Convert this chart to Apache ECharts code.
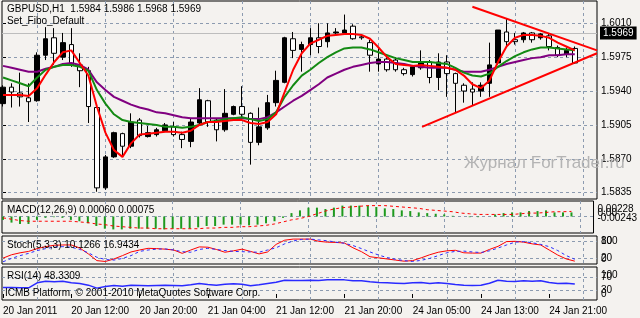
<!DOCTYPE html>
<html><head><meta charset="utf-8">
<script src="https://cdn.jsdelivr.net/npm/echarts@6/dist/echarts.min.js"></script>
<style>html,body{margin:0;padding:0;background:#f4f2ef;}#c{width:640px;height:318px;}</style>
</head><body><div id="c"></div>
<script>
// ---- data ----
const opens  = [1.5927,1.5944,1.5938,1.5933,1.5930,1.5977,1.5995,1.5975,1.5988,1.5967,1.5961,1.5923,1.5840,1.5872,1.5896,1.5883,1.5910,1.5893,1.5895,1.5899,1.5903,1.5895,1.5888,1.5907,1.5930,1.5910,1.5900,1.5916,1.5924,1.5917,1.5887,1.5902,1.5928,1.5949,1.5994,1.5983,1.5988,1.5995,1.5991,1.6000,1.6000,1.6007,1.5996,1.5990,1.5968,1.5973,1.5972,1.5962,1.5957,1.5964,1.5970,1.5954,1.5970,1.5958,1.5946,1.5942,1.5940,1.5948,1.5969,1.6001,1.5993,1.5993,1.6000,1.5995,1.5997,1.5985,1.5978,1.5984];
const highs  = [1.5946,1.5948,1.5959,1.5948,1.5980,1.6006,1.6005,1.6000,1.6005,1.5979,1.5965,1.5924,1.5874,1.5898,1.5897,1.5917,1.5912,1.5904,1.5902,1.5907,1.5908,1.5898,1.5912,1.5943,1.5931,1.5912,1.5942,1.5925,1.5945,1.5918,1.5923,1.5936,1.5961,1.5996,1.6001,1.5991,1.6005,1.6010,1.6010,1.6005,1.6019,1.6009,1.5998,1.5993,1.5985,1.5975,1.5975,1.5964,1.5967,1.5982,1.5972,1.5979,1.5977,1.5959,1.5948,1.5949,1.5949,1.5990,1.6003,1.6015,1.6000,1.6001,1.6001,1.6000,1.6000,1.5987,1.5985,1.5986];
const lows   = [1.5924,1.5923,1.5924,1.5908,1.5929,1.5972,1.5967,1.5972,1.5965,1.5944,1.5907,1.5836,1.5838,1.5871,1.5872,1.5881,1.5892,1.5892,1.5893,1.5898,1.5893,1.5881,1.5882,1.5905,1.5903,1.5888,1.5898,1.5915,1.5913,1.5864,1.5884,1.5900,1.5924,1.5948,1.5974,1.5960,1.5977,1.5979,1.5985,1.5998,1.5999,1.5993,1.5993,1.5960,1.5960,1.5960,1.5960,1.5956,1.5955,1.5962,1.5948,1.5941,1.5934,1.5918,1.5928,1.5925,1.5934,1.5934,1.5967,1.5986,1.5988,1.5990,1.5990,1.5993,1.5982,1.5975,1.5975,1.5968];
const closes = [1.5944,1.5939,1.5934,1.5929,1.5977,1.5994,1.5979,1.5990,1.5967,1.5961,1.5924,1.5840,1.5872,1.5897,1.5883,1.5908,1.5894,1.5897,1.5900,1.5905,1.5895,1.5890,1.5908,1.5931,1.5908,1.5900,1.5917,1.5924,1.5916,1.5887,1.5903,1.5928,1.5951,1.5995,1.5982,1.5988,1.5995,1.5986,1.6000,1.6001,1.6003,1.5994,1.5995,1.5977,1.5973,1.5962,1.5962,1.5958,1.5965,1.5970,1.5954,1.5970,1.5958,1.5948,1.5940,1.5939,1.5946,1.5967,1.6003,1.5991,1.5991,1.6000,1.5993,1.5999,1.5986,1.5977,1.5982,1.5969];
const maRed    = [1.5936,1.5936,1.5936,1.5935,1.5943,1.5957,1.5970,1.5980,1.5982,1.5969,1.5956,1.5924,1.5897,1.5879,1.5872,1.5886,1.5895,1.5896,1.5897,1.5898,1.5898,1.5897,1.5899,1.5905,1.5908,1.5908,1.5909,1.5910,1.5910,1.5907,1.5906,1.5908,1.5916,1.5939,1.5962,1.5979,1.5989,1.5993,1.5997,1.5998,1.5999,1.5999,1.5998,1.5994,1.5985,1.5975,1.5968,1.5967,1.5966,1.5967,1.5966,1.5965,1.5964,1.5962,1.5956,1.5947,1.5943,1.5951,1.5970,1.5986,1.5995,1.5998,1.5998,1.5997,1.5995,1.5990,1.5986,1.5982];
const maGreen  = [1.5954,1.5951,1.5948,1.5945,1.5954,1.5962,1.5965,1.5967,1.5967,1.5965,1.5961,1.5941,1.5927,1.5916,1.5910,1.5908,1.5907,1.5906,1.5905,1.5903,1.5903,1.5902,1.5903,1.5905,1.5908,1.5909,1.5911,1.5912,1.5913,1.5911,1.5909,1.5911,1.5918,1.5934,1.5946,1.5956,1.5962,1.5969,1.5975,1.5980,1.5984,1.5985,1.5985,1.5983,1.5980,1.5977,1.5974,1.5972,1.5970,1.5970,1.5970,1.5969,1.5968,1.5964,1.5959,1.5956,1.5955,1.5958,1.5965,1.5971,1.5976,1.5980,1.5983,1.5985,1.5985,1.5984,1.5983,1.5982];
const maPurple = [1.5966,1.5964,1.5962,1.5960,1.5960,1.5963,1.5965,1.5968,1.5969,1.5967,1.5962,1.5949,1.5941,1.5934,1.5930,1.5926,1.5923,1.5921,1.5918,1.5917,1.5915,1.5913,1.5912,1.5912,1.5912,1.5912,1.5912,1.5912,1.5912,1.5911,1.5911,1.5913,1.5918,1.5924,1.5930,1.5935,1.5941,1.5947,1.5954,1.5958,1.5962,1.5965,1.5967,1.5969,1.5970,1.5970,1.5969,1.5968,1.5966,1.5965,1.5964,1.5964,1.5964,1.5962,1.5960,1.5960,1.5960,1.5962,1.5965,1.5968,1.5970,1.5972,1.5974,1.5975,1.5977,1.5977,1.5978,1.5978];
const upperTrend = [[55.0,1.6027],[69.6,1.5982]];
const lowerTrend = [[49.1,1.5903],[69.6,1.5979]];
const macdHist   = [-0.0005,-0.0009,-0.0011,-0.0011,-0.0005,-0.0002,-0.0001,-0.0002,-0.0005,-0.0007,-0.0010,-0.0014,-0.0018,-0.0019,-0.0019,-0.0018,-0.0018,-0.0018,-0.0018,-0.0019,-0.0018,-0.0018,-0.0018,-0.0016,-0.0014,-0.0014,-0.0012,-0.0012,-0.0012,-0.0013,-0.0012,-0.0010,-0.0007,-0.0002,0.0005,0.0009,0.0013,0.0013,0.0011,0.0013,0.0016,0.0016,0.0016,0.0016,0.0014,0.0012,0.0011,0.0009,0.0008,0.0006,0.0005,0.0004,0.0003,0.0001,0.0000,-0.0001,-0.0001,0.0000,0.0003,0.0005,0.0006,0.0006,0.0008,0.0008,0.0009,0.0006,0.0006,0.0006];
const macdSignal = [-0.0002,-0.0004,-0.0006,-0.0007,-0.0007,-0.0007,-0.0007,-0.0007,-0.0007,-0.0008,-0.0009,-0.0011,-0.0012,-0.0014,-0.0015,-0.0016,-0.0017,-0.0017,-0.0018,-0.0018,-0.0018,-0.0018,-0.0018,-0.0018,-0.0017,-0.0017,-0.0016,-0.0016,-0.0015,-0.0015,-0.0014,-0.0013,-0.0011,-0.0008,-0.0005,-0.0003,0.0000,0.0004,0.0008,0.0011,0.0013,0.0014,0.0015,0.0016,0.0016,0.0016,0.0015,0.0014,0.0013,0.0012,0.0010,0.0009,0.0008,0.0007,0.0005,0.0004,0.0003,0.0003,0.0003,0.0003,0.0003,0.0004,0.0005,0.0005,0.0006,0.0007,0.0007,0.00075];
const stochK = [21,33,40,45,55,62,67,68,68,57,36,12,9,18,30,43,50,56,55,53,50,38,50,61,60,52,42,47,53,45,36,43,70,85,89,89,89,81,78,77,75,58,44,26,22,18,14,10,12,22,33,42,47,49,40,39,39,52,63,80,81,78,72,68,50,32,18,10.1266];
const stochD = [8,20,30,38,48,55,60,62,60,52,40,24,16,14,20,30,45,50,53,54,50,44,42,52,56,52,48,45,44,43,42,50,58,72,82,88,89,86,83,78,74,66,55,43,32,23,17,12,9,13,20,30,40,45,46,43,41,47,57,68,78,80,76,70,62,48,30,16.9434];
const rsi = [38,38,37,37,52,57,55,57,52,50,45,36,41,44,42,45,44,43,44,45,44,43,46,50,47,45,48,49,48,43,46,50,54,60,59,59,60,59,61,61,61,58,58,55,53,52,51,50,52,53,50,52,50,47,45,44,45,51,60,57,56,58,57,58,53,50,51,48.3309];
const priceTicks = [1.6010,1.5975,1.5940,1.5905,1.5870,1.5835];
const lastPrice = 1.5969;
const timeTickBars = [0,8,16,24,32,40,48,56,64];
const timeLabels = ['20 Jan 2011','20 Jan 12:00','20 Jan 20:00','21 Jan 04:00','21 Jan 12:00','21 Jan 20:00','24 Jan 05:00','24 Jan 13:00','24 Jan 21:00'];
const gridBars = [4,12,20,28,36,44,52,60,68];
const macdTicks = [0.00228,0,-0.00243];
const stochLevels = [80,20], stochBounds = [100,0];
const rsiLevels = [70,30], rsiBounds = [100,0];

// ---- chart ----
const FONT = 'Liberation Sans';
const XMIN = -0.12, XMAX = 69.6;
const BG = '#f4f2ef';
const dash = {color:'#8c9bb0', type:[3,3], width:1};
const grids = [
  {left:2, top:1, width:595, height:198},
  {left:2, top:201, width:595, height:32},
  {left:2, top:236, width:595, height:28},
  {left:2, top:267, width:595, height:33}
].map(g => Object.assign(g, {show:true, borderColor:'#000', borderWidth:1, backgroundColor:BG}));

const xAxes = [0,1,2,3].map(i => ({
  type:'value', gridIndex:i, min:XMIN, max:XMAX,
  axisLine:{show:false}, axisLabel:{show:false},
  axisTick:{show:false, customValues:gridBars},
  splitLine:{show:true, lineStyle:dash}
}));
xAxes.push({
  type:'value', gridIndex:3, min:XMIN, max:XMAX, position:'bottom',
  axisLine:{show:false}, splitLine:{show:false},
  axisTick:{show:true, length:4, customValues:timeTickBars, lineStyle:{color:'#000'}},
  axisLabel:{customValues:timeTickBars, align:'left', margin:6, color:'#000', fontFamily:FONT, fontSize:10, hideOverlap:false,
    formatter:v => timeLabels[timeTickBars.indexOf(Math.round(v))] || ''}
});

const lblStyle = {color:'#000', fontFamily:FONT, fontSize:10, hideOverlap:false, margin:4};
// label-only axis: one value per axis so that overlapping labels are all kept
const labelAxis = (grid, min, max, values, fmt) => ({
  type:'value', gridIndex:grid, position:'right', min, max,
  axisLine:{show:false}, axisTick:{show:false, customValues:values}, splitLine:{show:false},
  axisLabel:Object.assign({customValues:values, formatter:fmt || (v=>String(v))}, lblStyle)
});
const macdFmt = v => Math.abs(v) < 1e-9 ? '0.00' : v.toFixed(5);
const yAxes = [
  {type:'value', gridIndex:0, position:'right', min:1.58285, max:1.6033,
   axisLine:{show:false}, axisTick:{show:true, length:3, customValues:priceTicks, lineStyle:{color:'#000'}},
   axisLabel:Object.assign({customValues:priceTicks, formatter:v=>v.toFixed(4)}, lblStyle),
   splitLine:{show:true, lineStyle:dash}},
  {type:'value', gridIndex:1, position:'right', min:-0.00243, max:0.00228,
   axisLine:{show:false}, axisTick:{show:false, customValues:[0]}, axisLabel:{show:false},
   splitLine:{show:true, lineStyle:dash}},
  labelAxis(1, -0.0100, 0.00658, [macdTicks[0]], macdFmt),
  labelAxis(1, -0.0100, 0.00658, [macdTicks[1]], macdFmt),
  labelAxis(1, -0.0100, 0.00658, [macdTicks[2]], macdFmt),
  {type:'value', gridIndex:2, position:'right', min:0, max:100,
   axisLine:{show:false}, axisTick:{show:false, customValues:stochLevels},
   axisLabel:Object.assign({customValues:stochLevels}, lblStyle),
   splitLine:{show:true, lineStyle:dash}},
  labelAxis(2, -27.8, 127.8, [stochBounds[0]]),
  labelAxis(2, -27.8, 127.8, [stochBounds[1]]),
  {type:'value', gridIndex:3, position:'right', min:0, max:100,
   axisLine:{show:false}, axisTick:{show:false, customValues:rsiLevels},
   axisLabel:Object.assign({customValues:rsiLevels}, lblStyle),
   splitLine:{show:true, lineStyle:dash}},
  labelAxis(3, -31.6, 142, [rsiBounds[0]]),
  labelAxis(3, -31.6, 142, [rsiBounds[1]])
];

const idx = a => a.map((v,i)=>[i,v]);
const line = (data, color, width, xi, yi, extra) => Object.assign({
  type:'line', data, xAxisIndex:xi, yAxisIndex:yi, showSymbol:false, symbol:'none', silent:true,
  lineStyle:{color, width}, z:3
}, extra||{});

const candles = opens.map((o,i)=>[i, o, closes[i], lows[i], highs[i]]);

const series = [
  {type:'candlestick', xAxisIndex:0, yAxisIndex:0, data:candles, encode:{x:0, y:[1,2,3,4]},
   barWidth:5, z:2, silent:true,
   itemStyle:{color:'#000', color0:'#fff', borderColor:'#000', borderColor0:'#000', borderWidth:1},
   markLine:{symbol:'none', silent:true, animation:false, z:1,
     data:[{yAxis:lastPrice}],
     lineStyle:{color:'#bdbdbd', width:1, type:'solid'},
     label:{position:'end', distance:3, formatter:lastPrice.toFixed(4), backgroundColor:'#000', color:'#fff',
       padding:[2,3,1,3], fontFamily:FONT, fontSize:10}}},
  line(idx(maPurple), '#800080', 2, 0, 0),
  line(idx(maGreen), '#138a13', 2, 0, 0),
  line(idx(maRed), '#ff0000', 2, 0, 0),
  line(upperTrend, '#ff0000', 2, 0, 0, {z:4}),
  line(lowerTrend, '#ff0000', 2, 0, 0, {z:4}),
  {type:'bar', xAxisIndex:1, yAxisIndex:1, data:idx(macdHist), barWidth:2, itemStyle:{color:'#1e9a1e'}, silent:true, z:2},
  line(idx(macdSignal), '#ff0000', 1, 1, 1, {lineStyle:{color:'#ff0000', width:1, type:[3,3]}}),
  line(idx(stochK), '#ff0000', 1, 2, 5),
  line(idx(stochD), '#2a2aff', 1, 2, 5, {lineStyle:{color:'#2a2aff', width:1, type:[3,3]}}),
  line(idx(rsi), '#2a2aff', 1.5, 3, 8)
];

const txt = (left, top, text, extra) => ({type:'text', left, top, z:10, silent:true,
  style:Object.assign({text, fill:'#000', font:'10px "' + FONT + '"'}, extra||{})});

const chart = echarts.init(document.getElementById('c'), null, {renderer:'canvas'});
chart.setOption({
  animation:false,
  backgroundColor:BG,
  grid:grids, xAxis:xAxes, yAxis:yAxes, series,
  graphic:[
    txt(464, 155, 'Журнал ForTrader.ru', {fill:'#b4b4b4', font:'17px "' + FONT + '"'}),
    txt(7, 4, 'GBPUSD,H1  ' + [opens[67], highs[67], lows[67], closes[67]].map(v=>v.toFixed(4)).join(' ')),
    txt(7, 16, 'Set_Fibo_Default'),
    txt(7, 205, 'MACD(12,26,9) ' + macdHist[67].toFixed(5) + ' ' + macdSignal[67].toFixed(5)),
    txt(7, 240, 'Stoch(5,3,3) ' + stochK[67].toFixed(4) + ' ' + stochD[67].toFixed(4)),
    txt(7, 271, 'RSI(14) ' + rsi[67].toFixed(4)),
    txt(5, 288, 'ICMB Platform, © 2001-2010 MetaQuotes Software Corp.')
  ]
});
</script></body></html>
